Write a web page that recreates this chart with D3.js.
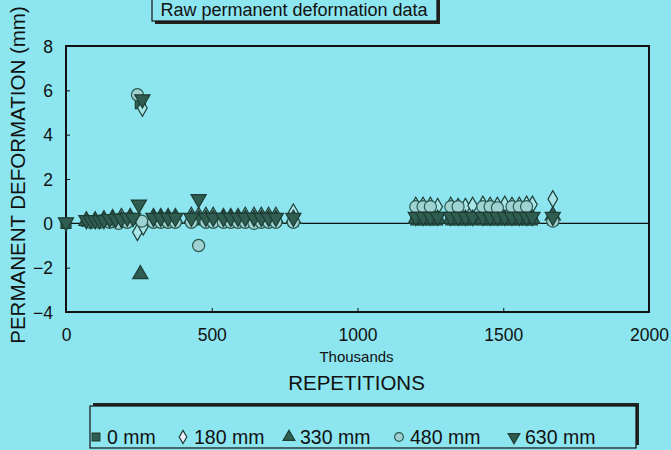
<!DOCTYPE html>
<html><head><meta charset="utf-8">
<script src="https://cdn.jsdelivr.net/npm/d3@7"></script>
<style>html,body{margin:0;padding:0;background:#8ce5ef;}svg{display:block;font-family:"Liberation Sans",Arial,sans-serif;}</style>
</head><body>
<svg id="c" width="671" height="450"></svg>
<script>
const title = "Raw permanent deformation data";
const yTicks = [-4, -2, 0, 2, 4, 6, 8];
const xTicks = [0, 500, 1000, 1500, 2000];
const seriesNames = ["0 mm", "180 mm", "330 mm", "480 mm", "630 mm"];
// x in thousands of repetitions, y in mm
const s0mm = [[0,0],[70,0.1],[85,0.1],[100,0.1],[115,0.1],[130,0.15],[150,0.15],[170,0.15],[190,0.2],[210,0.2],[230,0.2],[255,5.4],[300,0.15],[325,0.15],[350,0.15],[375,0.15],[430,0.15],[455,0.15],[480,0.15],[505,0.15],[540,0.15],[565,0.15],[590,0.15],[615,0.15],[645,0.15],[670,0.15],[695,0.15],[720,0.15],[780,0.1],[1200,0.15],[1225,0.15],[1250,0.15],[1275,0.15],[1320,0.15],[1345,0.15],[1370,0.15],[1395,0.15],[1430,0.15],[1455,0.15],[1480,0.15],[1505,0.15],[1530,0.15],[1555,0.15],[1580,0.15],[1600,0.15],[1670,0.15]];
const s180mm = [[70,0.15],[100,0.15],[130,0.2],[160,0.25],[190,0.3],[220,0.3],[245,-0.4],[262,5.2],[265,-0.15],[300,0.3],[325,0.3],[350,0.3],[375,0.3],[430,0.35],[455,0.35],[480,0.35],[505,0.35],[540,0.3],[565,0.3],[590,0.3],[615,0.35],[645,0.35],[670,0.35],[695,0.35],[720,0.35],[780,0.5],[1200,0.8],[1225,0.8],[1250,0.8],[1275,0.75],[1320,0.8],[1345,0.75],[1370,0.75],[1395,0.8],[1430,0.85],[1455,0.8],[1480,0.8],[1505,0.85],[1530,0.8],[1555,0.8],[1580,0.85],[1600,0.85],[1670,1.1]];
const s330mm = [[70,0.1],[100,0.1],[130,0.1],[160,0.15],[190,0.15],[220,0.2],[255,-2.3],[300,0.2],[325,0.2],[350,0.2],[375,0.2],[430,0.2],[455,0.2],[480,0.2],[505,0.2],[540,0.2],[565,0.2],[590,0.2],[615,0.2],[645,0.2],[670,0.2],[695,0.2],[720,0.2],[780,0.2],[1200,0.2],[1225,0.2],[1250,0.2],[1275,0.2],[1320,0.2],[1345,0.2],[1370,0.2],[1395,0.2],[1430,0.2],[1455,0.2],[1480,0.2],[1505,0.2],[1530,0.2],[1555,0.2],[1580,0.2],[1600,0.2],[1670,0.35]];
const s480mm = [[85,0.05],[115,0.05],[150,0.05],[180,0.0],[210,0.05],[245,5.8],[260,0.1],[300,0.05],[325,0.05],[350,0.05],[375,0.05],[430,0.05],[455,-1.0],[480,0.05],[505,0.05],[540,0.05],[565,0.05],[590,0.05],[615,0.05],[645,0.0],[670,0.05],[695,0.05],[720,0.05],[780,0.05],[1200,0.75],[1225,0.75],[1250,0.75],[1320,0.75],[1345,0.75],[1430,0.75],[1455,0.75],[1480,0.7],[1530,0.75],[1555,0.75],[1580,0.75],[1670,0.1]];
const s630mm = [[0,0.05],[70,0.15],[85,0.15],[100,0.15],[115,0.15],[130,0.15],[150,0.2],[170,0.2],[190,0.2],[210,0.25],[230,0.25],[250,0.85],[262,5.6],[300,0.25],[325,0.25],[350,0.25],[375,0.25],[430,0.25],[455,1.1],[480,0.25],[505,0.25],[540,0.25],[565,0.25],[590,0.25],[615,0.25],[645,0.25],[670,0.25],[695,0.25],[720,0.25],[780,0.25],[1200,0.3],[1225,0.3],[1250,0.3],[1275,0.3],[1320,0.3],[1345,0.3],[1370,0.3],[1395,0.3],[1430,0.3],[1455,0.3],[1480,0.3],[1505,0.3],[1530,0.3],[1555,0.3],[1580,0.3],[1600,0.3],[1670,0.3]];
const seriesData = [s0mm, s180mm, s330mm, s480mm, s630mm];

const svg = d3.select("#c");
const L = 66, R = 649, T = 46, B = 312;
const x = d3.scaleLinear().domain([0, 2000]).range([L, R]);
const y = d3.scaleLinear().domain([-4, 8]).range([B, T]);
const dark = "#2f5d50", ink = "#111", bg = "#8ce5ef";

// title box with shadow
const tg = svg.append("g");
tg.append("rect").attr("x", 155).attr("y", -10).attr("width", 285).attr("height", 34).attr("fill", "#222");
tg.append("rect").attr("x", 152).attr("y", -12).attr("width", 285).attr("height", 33).attr("fill", bg).attr("stroke", ink).attr("stroke-width", 1.2);
tg.append("text").attr("x", 294).attr("y", 15.5).attr("text-anchor", "middle").attr("font-size", 18).attr("fill", ink).text(title);

// zero line
svg.append("line").attr("x1", L).attr("x2", R).attr("y1", y(0)).attr("y2", y(0)).attr("stroke", ink).attr("stroke-width", 1.2);

// axes
const yAxis = d3.axisLeft(y).tickValues(yTicks).tickSize(-4).tickPadding(13).tickFormat(d3.format("d"));
const ya = svg.append("g").attr("transform", `translate(${L},0)`).call(yAxis);
const xAxis = d3.axisBottom(x).tickValues(xTicks).tickSize(-4).tickPadding(17).tickFormat(d3.format("d"));
const xa = svg.append("g").attr("transform", `translate(0,${B})`).call(xAxis);
[ya, xa].forEach(g => {
  g.select(".domain").remove();
  g.selectAll("line").attr("stroke", ink).attr("stroke-width", 1);
  g.selectAll("text").attr("font-size", 17.5).attr("fill", ink).style("font-family", "Liberation Sans, Arial, sans-serif");
});
ya.selectAll("text").attr("dy", "0.35em");
xa.selectAll("text").attr("dy", "0.7em");
// frame
svg.append("rect").attr("x", L).attr("y", T).attr("width", R - L).attr("height", B - T).attr("fill", "none").attr("stroke", ink).attr("stroke-width", 2);

// axis titles
svg.append("text").attr("transform", `translate(25,175) rotate(-90)`).attr("text-anchor", "middle").attr("font-size", 20.5).attr("fill", ink).text("PERMANENT DEFORMATION (mm)");
svg.append("text").attr("x", (L + R) / 2 - 1).attr("y", 362).attr("text-anchor", "middle").attr("font-size", 15).attr("fill", ink).text("Thousands");
svg.append("text").attr("x", (L + R) / 2 - 1).attr("y", 390).attr("text-anchor", "middle").attr("font-size", 20.5).attr("fill", ink).text("REPETITIONS");

// markers
const symTypes = [d3.symbolSquare, d3.symbolDiamond, d3.symbolTriangle, d3.symbolCircle, d3.symbolTriangle];
const fills = [dark, "#a8e6ea", dark, "#9fd2d2", dark];
const strokes = ["#1e3d35", "#1e3d35", "#1e3d35", "#2a5a50", "#1e3d35"];
const sizes = [100, 80, 100, 115, 100];
const rots = [0, 0, 0, 0, 180];
seriesData.forEach((data, i) => {
  const sym = d3.symbol().type(symTypes[i]).size(sizes[i]);
  svg.append("g").selectAll("path").data(data).join("path")
    .attr("d", sym)
    .attr("transform", d => `translate(${x(d[0])},${y(d[1])}) rotate(${rots[i]})`)
    .attr("fill", fills[i]).attr("stroke", strokes[i]).attr("stroke-width", 1.2);
});

// legend
const lg = svg.append("g");
lg.append("rect").attr("x", 93).attr("y", 403).attr("width", 546).attr("height", 42).attr("fill", "#222");
lg.append("rect").attr("x", 90).attr("y", 406).attr("width", 546).attr("height", 42).attr("fill", bg).attr("stroke", ink).attr("stroke-width", 1.2);
const legX = [96, 183, 289, 399, 514];
seriesNames.forEach((n, i) => {
  const sym = d3.symbol().type(symTypes[i]).size(i === 1 ? 50 : 60);
  lg.append("path").attr("d", sym).attr("transform", `translate(${legX[i]},${437}) rotate(${rots[i]})`)
    .attr("fill", i === 1 ? "#eef" : fills[i]).attr("stroke", strokes[i]).attr("stroke-width", 1.2);
  lg.append("text").attr("x", legX[i] + 11).attr("y", 444).attr("font-size", 19.5).attr("fill", ink).text(n);
});
</script>
</body></html>
